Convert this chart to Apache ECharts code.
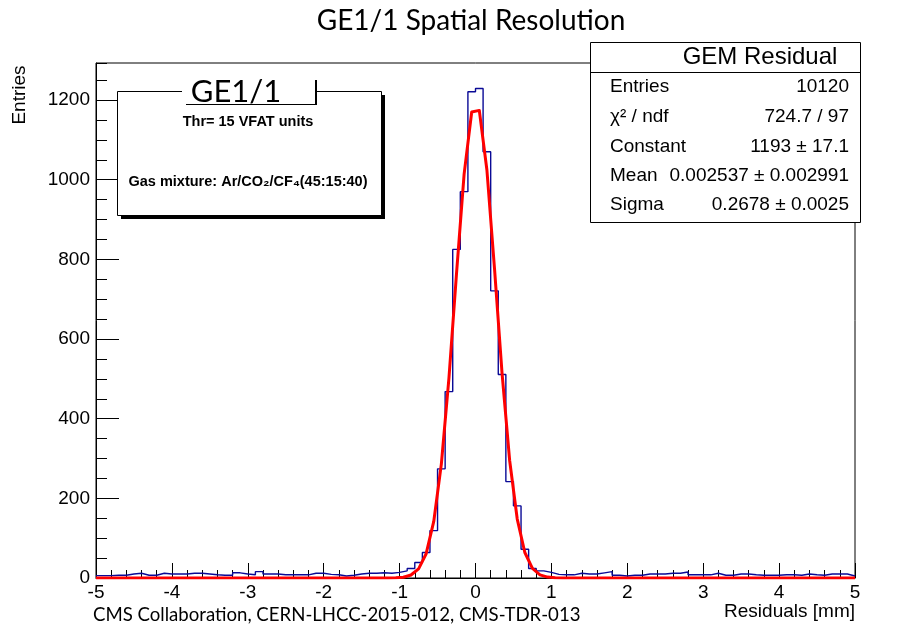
<!DOCTYPE html>
<html><head><meta charset="utf-8">
<script src="https://cdn.jsdelivr.net/npm/echarts@6/dist/echarts.min.js"></script>
<style>html,body{margin:0;padding:0;background:#fff}#c{width:923px;height:626px}</style>
</head><body><div id="c"></div>
<script>
// Histogram: 100 bins from -5 to 5 (width 0.1), counts per bin
const binLow = -5;
const binWidth = 0.1;
const counts = [
  6, 6, 7, 7, 10, 12, 7, 7, 12, 10,
  10, 10, 12, 12, 10, 8, 7, 7, 13, 10,
  8, 16, 10, 10, 8, 8, 8, 8, 12, 12,
  9, 8, 5, 7, 10, 12, 12, 13, 12, 14,
  18, 24, 39, 64, 119, 274, 468, 825, 970, 1221,
  1229, 1070, 721, 511, 242, 181, 72, 24, 18, 14,
  9, 8, 8, 12, 10, 10, 13, 16, 7, 5,
  7, 7, 10, 10, 10, 12, 12, 15, 8, 8,
  8, 12, 7, 7, 10, 10, 8, 7, 7, 7,
  8, 8, 7, 10, 8, 7, 10, 10, 10, 5
];
// Gaussian fit curve, read at bin centres
const fitX = [-5, -1.25, -1.15, -1.05, -0.95, -0.85, -0.75, -0.65, -0.55, -0.45, -0.35, -0.25, -0.15, -0.05,
              0.05, 0.15, 0.25, 0.35, 0.45, 0.55, 0.65, 0.75, 0.85, 0.95, 1.05, 1.15, 1.25, 5];
const fitY = [0, 0, 0.1, 0.5, 2, 7.5, 23, 61, 142, 286, 502, 765, 1014, 1170,
              1174, 1025, 778, 514, 295, 148, 64, 24, 8, 2.3, 0.6, 0.1, 0, 0];
const xMin = -5, xMax = 5, xStep = 1;
const yMax = 1293, yStep = 200, yMinorStep = 50;
const statLabels = ['Entries', 'χ² / ndf', 'Constant', 'Mean', 'Sigma'];
const statValues = ['10120', '724.7 / 97', '1193 ± 17.1', '0.002537 ± 0.002991', '0.2678 ± 0.0025'];

const histData = counts.map((v, i) => [Math.round((binLow + i * binWidth) * 100) / 100, v]);
histData.push([Math.round((binLow + counts.length * binWidth) * 100) / 100, counts[counts.length - 1]]);
const fitData = fitX.map((x, i) => [x, fitY[i]]);

const AX = '"Liberation Sans", Arial, Helvetica, sans-serif';
const CAL = 'Lato, "Open Sans", sans-serif';

function txt(x, y, text, font, align, valign, extra) {
  return Object.assign({
    type: 'text', x: x, y: y, z: 100,
    style: { text: text, font: font, fill: '#000', align: align, textAlign: align,
             verticalAlign: valign, textVerticalAlign: valign }
  }, extra || {});
}

const graphics = [];
// title and footer
graphics.push(txt(471, 21, 'GE1/1 Spatial Resolution', '28px ' + CAL, 'center', 'middle'));
graphics.push(txt(93, 615, 'CMS Collaboration, CERN-LHCC-2015-012, CMS-TDR-013', '18.6px ' + CAL, 'left', 'middle'));
// axis titles
graphics.push(txt(20, 95, 'Entries', '19px ' + AX, 'center', 'middle', { rotation: Math.PI / 2 }));
graphics.push(txt(855, 612, 'Residuals [mm]', '19px ' + AX, 'right', 'middle'));
// GE1/1 pave
graphics.push({ type: 'rect', z: 99, shape: { x: 121, y: 95, width: 264, height: 124 }, style: { fill: '#000' } });
graphics.push({ type: 'rect', z: 99, shape: { x: 117.5, y: 91.5, width: 264, height: 124 }, style: { fill: '#fff', stroke: '#000', lineWidth: 1 } });
graphics.push({ type: 'rect', z: 100, shape: { x: 182, y: 74, width: 134, height: 30 }, style: { fill: '#fff' } });
graphics.push({ type: 'line', z: 100, shape: { x1: 186, y1: 104.5, x2: 317, y2: 104.5 }, style: { stroke: '#000', lineWidth: 1 } });
graphics.push({ type: 'line', z: 100, shape: { x1: 316, y1: 80, x2: 316, y2: 105 }, style: { stroke: '#000', lineWidth: 2 } });
graphics.push(txt(236, 92, 'GE1/1', '31px ' + CAL, 'center', 'middle'));
graphics.push(txt(248, 122, 'Thr= 15 VFAT units', 'bold 14.5px ' + AX, 'center', 'middle'));
graphics.push(txt(248, 182, 'Gas mixture: Ar/CO₂/CF₄(45:15:40)', 'bold 14.5px ' + AX, 'center', 'middle'));
// stats box
graphics.push({ type: 'rect', z: 99, shape: { x: 590.5, y: 42.5, width: 270, height: 180 }, style: { fill: '#fff', stroke: '#000', lineWidth: 1 } });
graphics.push({ type: 'line', z: 100, shape: { x1: 590.5, y1: 72.5, x2: 860.5, y2: 72.5 }, style: { stroke: '#000', lineWidth: 1 } });
graphics.push(txt(760, 57, 'GEM Residual', '24px ' + AX, 'center', 'middle'));
const rowY = [87, 117, 147, 176, 205];
statLabels.forEach((l, i) => {
  graphics.push(txt(610, rowY[i], l, '19px ' + AX, 'left', 'middle'));
  graphics.push(txt(849, rowY[i], statValues[i], '19px ' + AX, 'right', 'middle'));
});

const chart = echarts.init(document.getElementById('c'));
chart.setOption({
  animation: false,
  backgroundColor: '#fff',
  grid: { left: 96, right: 68, top: 63, bottom: 48, show: true, borderColor: '#000', borderWidth: 1, backgroundColor: 'transparent' },
  xAxis: {
    type: 'value', min: xMin, max: xMax, interval: xStep,
    axisLine: { onZero: false, lineStyle: { color: '#000', width: 1 } },
    axisTick: { inside: true, length: 15, lineStyle: { color: '#000', width: 1 } },
    minorTick: { show: true, splitNumber: 5, length: 8, lineStyle: { color: '#000', width: 1 } },
    splitLine: { show: false }, minorSplitLine: { show: false },
    axisLabel: { color: '#000', fontFamily: AX, fontSize: 19, margin: 5, formatter: v => String(v) }
  },
  yAxis: [{
    type: 'value', min: 0, max: yMax, interval: yStep, position: 'left',
    axisLine: { show: true, onZero: false, lineStyle: { color: '#000', width: 1 } },
    axisTick: { inside: true, length: 23, lineStyle: { color: '#000', width: 1 } },
    splitLine: { show: false },
    axisLabel: { color: '#000', fontFamily: AX, fontSize: 19, margin: 6, showMaxLabel: false, formatter: v => String(v) }
  }, {
    type: 'value', min: 0, max: yMax, interval: yMinorStep, position: 'left', offset: 0,
    axisLine: { show: false, onZero: false },
    axisTick: { inside: true, length: 11, lineStyle: { color: '#000', width: 1 } },
    splitLine: { show: false },
    axisLabel: { show: false }
  }],
  series: [{
    type: 'line', name: 'hist', data: histData, step: 'end', symbol: 'none', yAxisIndex: 0,
    lineStyle: { color: '#0a0a96', width: 1.4 }, z: 3, silent: true
  }, {
    type: 'line', name: 'fit', data: fitData, smooth: false, symbol: 'none', yAxisIndex: 0,
    lineStyle: { color: '#ff0000', width: 3, join: 'round' }, z: 4, silent: true
  }],
  graphic: graphics
});
</script>
</body></html>
